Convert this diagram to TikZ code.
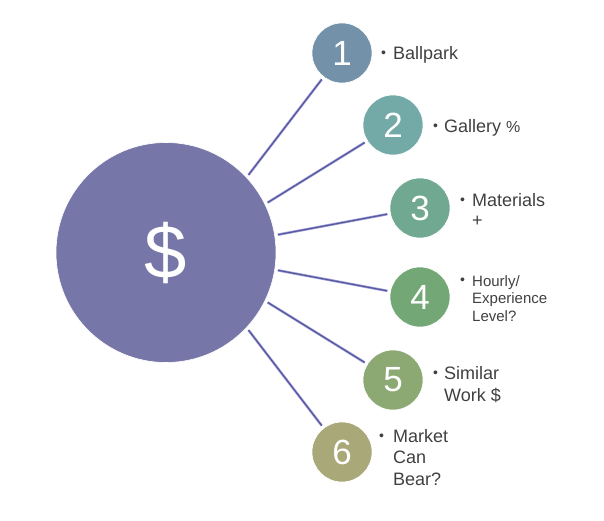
\documentclass[tikz,border=0pt]{standalone}
\usepackage{fontspec}
\setmainfont{Liberation Sans}
\usepackage{xcolor}
\usepackage{tikz}

\definecolor{hub}{RGB}{118,118,168}
\definecolor{c1}{RGB}{115,145,168}
\definecolor{c2}{RGB}{115,170,168}
\definecolor{c3}{RGB}{112,168,145}
\definecolor{c4}{RGB}{115,168,118}
\definecolor{c5}{RGB}{140,168,115}
\definecolor{c6}{RGB}{168,168,120}
\definecolor{spokelight}{RGB}{165,165,215}
\definecolor{spokedark}{RGB}{85,85,160}
\definecolor{txt}{RGB}{64,64,64}

\begin{document}
\begin{tikzpicture}[x=1pt,y=-1pt,
    num/.style={circle, draw=white, line width=0.6pt, minimum size=60pt, inner sep=0pt,
        text=white, font=\fontsize{35}{35}\selectfont},
    spoke/.style={draw=spokelight, line width=2.6pt, shorten <=3pt, shorten >=3pt,
        postaction={draw=spokedark, line width=1.2pt}},
    dot/.style={anchor=base west, inner sep=0pt, text=txt, font=\fontsize{14}{14}\selectfont},
    item/.style={anchor=north west, inner sep=0pt, align=left, text=txt,
        font=\fontsize{18}{21.5}\selectfont}]
    \useasboundingbox (0,0) rectangle (604,520);

    % Center
    \node[circle, fill=hub, draw=white, line width=0.6pt, minimum size=220pt, inner sep=0pt,
        text=white, font=\fontsize{76}{76}\selectfont] (dollar) at (166,252.5) {\$};

    % Numbered circles
    \node[num, fill=c1] (n1) at (342,53) {1};
    \node[num, fill=c2] (n2) at (393,125) {2};
    \node[num, fill=c3] (n3) at (420,208) {3};
    \node[num, fill=c4] (n4) at (420,297) {4};
    \node[num, fill=c5] (n5) at (393,380) {5};
    \node[num, fill=c6] (n6) at (342,452) {6};

    % Spokes
    \draw[spoke] (dollar.43) -- (n1);
    \draw[spoke] (dollar.26) -- (n2);
    \draw[spoke] (dollar.9) -- (n3);
    \draw[spoke] (dollar.-9) -- (n4);
    \draw[spoke] (dollar.-26) -- (n5);
    \draw[spoke] (dollar.-43) -- (n6);

    % Labels (tops of the first lines)
    \node[dot] (b1) at (381,57) {•};
    \node[item] (t1) at (393,46) {Ballpark};
    \node[dot] (b2) at (433,130) {•};
    \node[item] (t2) at (444,119) {Gallery {\fontsize{16}{16}\selectfont\%}};
    \node[dot] (b3) at (460,204) {•};
    \node[item, font=\fontsize{18}{20.5}\selectfont] (t3) at (472,193) {Materials\\+};
    \node[dot] (b4) at (460,284) {•};
    \node[item, font=\fontsize{15}{17.5}\selectfont] (t4) at (472,275) {Hourly/\\Experience\\Level?};
    \node[dot] (b5) at (433,377) {•};
    \node[item, font=\fontsize{18}{22}\selectfont] (t5) at (444,366) {Similar\\Work \$};
    \node[dot] (b6) at (379,440) {•};
    \node[item] (t6) at (393,429) {Market\\Can\\Bear?};
\end{tikzpicture}
\end{document}
